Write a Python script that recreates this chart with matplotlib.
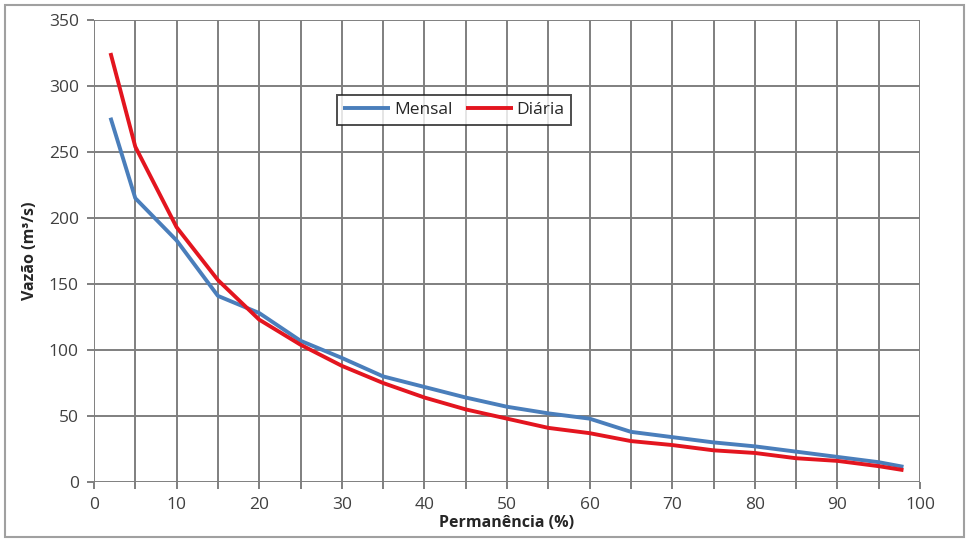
import matplotlib
matplotlib.use("Agg")
import matplotlib.pyplot as plt
from matplotlib.patches import Rectangle

permanencia = [2, 5, 10, 15, 20, 25, 30, 35, 40, 45, 50, 55, 60, 65, 70, 75, 80, 85, 90, 95, 98]
mensal = [276, 215, 183, 141, 128, 107, 94, 80, 72, 64, 57, 52, 48, 38, 34, 30, 27, 23, 19, 15, 11.5]
diaria = [325, 254, 193, 153, 123, 104, 88, 75, 64, 55, 48, 41, 37, 31, 28, 24, 22, 18, 16, 12, 9]

xticks = [0, 10, 20, 30, 40, 50, 60, 70, 80, 90, 100]
yticks = [0, 50, 100, 150, 200, 250, 300, 350]

plt.rcParams['font.family'] = ['Open Sans', 'DejaVu Sans']

fig = plt.figure(figsize=(9.69, 5.41), dpi=100)
W, H = 969, 541
ax = fig.add_axes([94 / W, 1 - 482 / H, (920 - 94) / W, (482 - 20) / H])

ax.plot(permanencia, mensal, color='#4a7ebb', lw=2.8, label='Mensal', solid_capstyle='butt')
ax.plot(permanencia, diaria, color='#e3151f', lw=2.8, label='Diária', solid_capstyle='butt')

ax.set_xlim(0, 100)
ax.set_ylim(0, 350)
ax.set_xticks(xticks)
ax.set_xticks(list(range(0, 101, 5)), minor=True)
ax.set_yticks(yticks)
ax.grid(True, which='both', color='#7f7f7f', lw=1.4)
ax.set_axisbelow(True)
for s in ax.spines.values():
    s.set_visible(False)
ax.tick_params(axis='both', which='both', length=5, color='#7f7f7f', width=1.4,
               labelsize=12.5, labelcolor='#404040', pad=6)
ax.tick_params(axis='x', which='major', pad=6)

ax.set_ylabel('Vazão (m³/s)', fontsize=11.5, fontweight='bold', color='#262626', labelpad=8)
ax.set_xlabel('Permanência (%)', fontsize=11.5, fontweight='bold', color='#262626', labelpad=1)

leg = ax.legend(loc='center', bbox_to_anchor=((454 - 94) / 826, (482 - 110) / 462), ncol=2,
                frameon=True, fancybox=False, fontsize=12.5, handlelength=2.7,
                handletextpad=0.2, columnspacing=0.8, borderpad=0.4)
leg.get_frame().set_edgecolor('#202020')
leg.get_frame().set_linewidth(1.4)
for t in leg.get_texts():
    t.set_color('#262626')

fig.patches.append(Rectangle((5 / W, 4 / H), (964 - 5) / W, (536 - 4) / H,
                             transform=fig.transFigure, fill=False,
                             edgecolor='#a0a0a0', lw=1.5))

fig.savefig('out.png', dpi=100)
